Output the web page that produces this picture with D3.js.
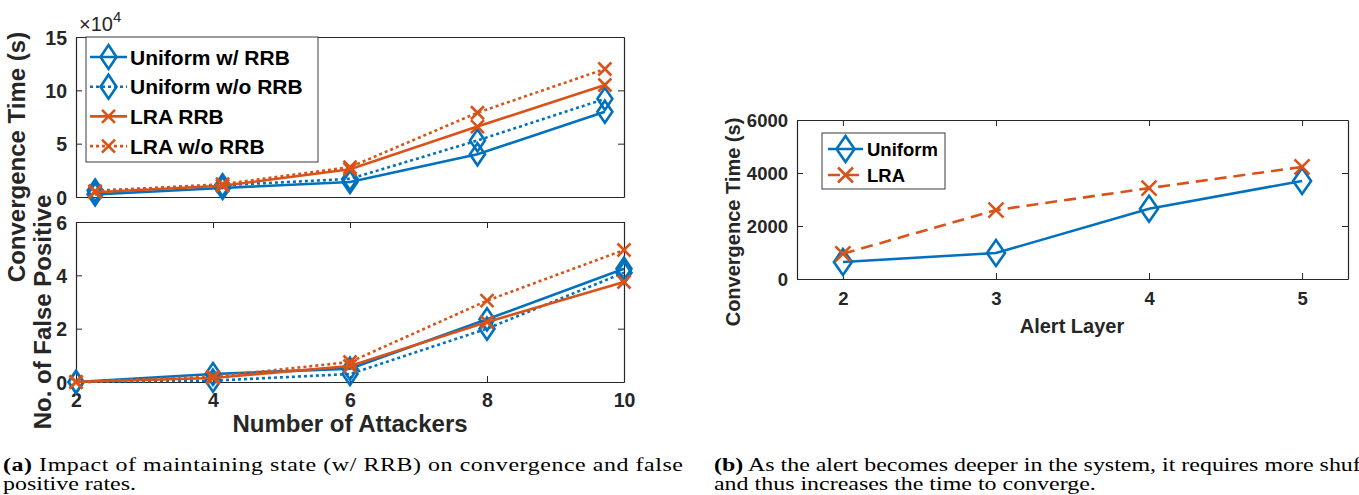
<!DOCTYPE html>
<html>
<head>
<meta charset="utf-8">
<script src="https://cdn.jsdelivr.net/npm/d3@7"></script>
<style>
body { margin: 0; background: #fff; }
text { font-family: "Liberation Sans", Arial, sans-serif; }
.cap { font-family: "Liberation Serif", "Times New Roman", serif; font-size: 19px; fill: #000; }
</style>
</head>
<body>
<svg id="fig"></svg>
<script>
// number of attackers (panel a)
const attackers = [2, 4, 6, 8, 10]
// convergence time, x10^4 s
const convUniformRRB   = [0.25, 0.85, 1.4, 4.0, 8.0]
const convUniformNoRRB = [0.6, 1.1, 1.7, 5.3, 9.2]
const convLraRRB       = [0.45, 1.05, 2.6, 6.6, 10.5]
const convLraNoRRB     = [0.55, 1.2, 2.8, 7.9, 12.0]
// number of false positives
const fpUniformRRB   = [0, 0.3, 0.5, 2.35, 4.25]
const fpUniformNoRRB = [0, 0.05, 0.3, 2.0, 4.1]
const fpLraRRB       = [0, 0.15, 0.6, 2.25, 3.75]
const fpLraNoRRB     = [0, 0.2, 0.75, 3.05, 4.95]
// panel b
const alertLayers = [2, 3, 4, 5]
const layerUniform = [640, 980, 2650, 3700]
const layerLra     = [950, 2600, 3430, 4230]

const convTicks = [0, 5, 10, 15]
const fpTicks = [0, 2, 4, 6]
const layerTicks = [0, 2000, 4000, 6000]

const blue = '#0072BD'
const orange = '#D95319'
const axisColor = '#262626'

const width = 1359, height = 495

const svg = d3.select('#fig')
  .attr('width', width)
  .attr('height', height)
  .attr('viewBox', [0, 0, width, height])

svg.append('rect').attr('width', width).attr('height', height).attr('fill', '#fff')

function marker(type, w, h) {
  if (type == 'diamond') return `M0,${-h}L${w},0L0,${h}L${-w},0Z`
  return `M${-w},${-h}L${w},${h}M${-w},${h}L${w},${-h}`
}

const fmt = d3.format('d')

// axis box with inward ticks, MATLAB style
function drawBox(g, x, y, o) {
  const [x0, x1] = x.range()
  const [y0, y1] = y.range()

  const left = g.append('g').attr('transform', `translate(${x0},0)`)
    .call(d3.axisLeft(y).tickValues(o.yTicks).tickFormat(fmt).tickSize(-6).tickSizeOuter(0).tickPadding(9))
  g.append('g').attr('transform', `translate(${x1},0)`)
    .call(d3.axisRight(y).tickValues(o.yTicks).tickSize(-6).tickSizeOuter(0).tickFormat(''))
  const bottom = g.append('g').attr('transform', `translate(0,${y0})`)
    .call(d3.axisBottom(x).tickValues(o.xTicks).tickFormat(fmt).tickSize(-6).tickSizeOuter(0).tickPadding(o.xPad || 12))
  g.append('g').attr('transform', `translate(0,${y1})`)
    .call(d3.axisTop(x).tickValues(o.xTicks).tickSize(-6).tickSizeOuter(0).tickFormat(''))

  g.selectAll('.domain').attr('stroke', axisColor).attr('stroke-width', 1.2)
  g.selectAll('.tick line').attr('stroke', axisColor).attr('stroke-width', 1)
  g.selectAll('.tick text')
    .attr('fill', axisColor)
    .attr('font-family', '"Liberation Sans", Arial, sans-serif')
    .attr('font-weight', 'bold')
    .attr('font-size', o.fontSize)
  left.selectAll('.tick text').attr('dy', '0.36em')
  bottom.selectAll('.tick text').attr('dy', '0.71em')
}

function drawSeries(g, x, y, xs, series, mw, mh, xw) {
  const line = d3.line().x(d => x(d[0])).y(d => y(d[1]))
  series.forEach(s => {
    const pts = xs.map((v, i) => [v, s.values[i]])
    g.append('path')
      .attr('d', line(pts))
      .attr('fill', 'none')
      .attr('stroke', s.color)
      .attr('stroke-width', 2.6)
      .attr('stroke-dasharray', s.dash)
    g.selectAll(null).data(pts).join('path')
      .attr('transform', d => `translate(${x(d[0])},${y(d[1])})`)
      .attr('d', s.marker == 'diamond' ? marker('diamond', mw, mh) : marker('x', xw, xw))
      .attr('fill', 'none')
      .attr('stroke', s.color)
      .attr('stroke-width', 2.6)
  })
}

function drawLegend(g, series, o) {
  g.append('rect')
    .attr('x', o.x).attr('y', o.y)
    .attr('width', o.w).attr('height', o.h)
    .attr('fill', '#fff')
    .attr('stroke', '#3a3a3a')
    .attr('stroke-width', 1)
  series.forEach((s, i) => {
    const cy = o.rowY + i * o.step
    g.append('line')
      .attr('x1', o.x + o.l0).attr('x2', o.x + o.l1)
      .attr('y1', cy).attr('y2', cy)
      .attr('stroke', s.color).attr('stroke-width', 2.6)
      .attr('stroke-dasharray', s.dash)
    g.append('path')
      .attr('transform', `translate(${o.x + (o.l0 + o.l1) / 2},${cy})`)
      .attr('d', s.marker == 'diamond' ? marker('diamond', o.mw, o.mh) : marker('x', o.xw, o.xw))
      .attr('fill', 'none').attr('stroke', s.color).attr('stroke-width', 2.6)
    g.append('text')
      .attr('x', o.x + o.tx).attr('y', cy).attr('dy', '0.36em')
      .attr('font-weight', 'bold').attr('font-size', o.fontSize)
      .attr('fill', '#000')
      .text(s.name)
  })
}

// ---------- panel (a), top: convergence time ----------
const xTop = d3.scaleLinear().domain([1.7, 10.3]).range([76, 624])
const yConv = d3.scaleLinear().domain([0, 15]).range([197, 37])
const gTop = svg.append('g')
drawBox(gTop, xTop, yConv, { yTicks: convTicks, xTicks: [], fontSize: 19.5 })

const convSeries = [
  { name: 'Uniform w/ RRB', values: convUniformRRB, color: blue, dash: null, marker: 'diamond' },
  { name: 'Uniform w/o RRB', values: convUniformNoRRB, color: blue, dash: '3,3', marker: 'diamond' },
  { name: 'LRA RRB', values: convLraRRB, color: orange, dash: null, marker: 'x' },
  { name: 'LRA w/o RRB', values: convLraNoRRB, color: orange, dash: '3,3', marker: 'x' }
]
drawSeries(gTop, xTop, yConv, attackers, convSeries, 7.5, 11, 6.5)

gTop.append('text')
  .attr('x', 79).attr('y', 31)
  .attr('font-size', 20).attr('fill', axisColor)
  .text('×10')
  .append('tspan').attr('dy', -9).attr('font-size', 15).text('4')

drawLegend(gTop, convSeries, {
  x: 86, y: 37, w: 232, h: 125, rowY: 57, step: 29.7,
  l0: 4, l1: 41, tx: 44, mw: 8, mh: 12, xw: 6.5, fontSize: 21
})

gTop.append('text')
  .attr('transform', 'translate(25,157) rotate(-90)')
  .attr('text-anchor', 'middle')
  .attr('font-weight', 'bold').attr('font-size', 24).attr('fill', axisColor)
  .text('Convergence Time (s)')

// ---------- panel (a), bottom: false positives ----------
const xBot = d3.scaleLinear().domain([2, 10]).range([76, 624])
const yFp = d3.scaleLinear().domain([0, 6]).range([382, 222])
const gBot = svg.append('g')
drawBox(gBot, xBot, yFp, { yTicks: fpTicks, xTicks: attackers, fontSize: 19.5, xPad: 11 })

const fpSeries = [
  { values: fpUniformRRB, color: blue, dash: null, marker: 'diamond' },
  { values: fpUniformNoRRB, color: blue, dash: '3,3', marker: 'diamond' },
  { values: fpLraRRB, color: orange, dash: null, marker: 'x' },
  { values: fpLraNoRRB, color: orange, dash: '3,3', marker: 'x' }
]
drawSeries(gBot, xBot, yFp, attackers, fpSeries, 7.5, 11, 6.5)

gBot.append('text')
  .attr('transform', 'translate(51,312) rotate(-90)')
  .attr('text-anchor', 'middle')
  .attr('font-weight', 'bold').attr('font-size', 24).attr('fill', axisColor)
  .text('No. of False Positive')

gBot.append('text')
  .attr('x', 350).attr('y', 432)
  .attr('text-anchor', 'middle')
  .attr('font-weight', 'bold').attr('font-size', 24).attr('fill', axisColor)
  .text('Number of Attackers')

// ---------- panel (b): alert layer ----------
const xLayer = d3.scaleLinear().domain([1.7, 5.3]).range([797, 1348])
const yLayer = d3.scaleLinear().domain([0, 6000]).range([279, 120])
const gR = svg.append('g')
drawBox(gR, xLayer, yLayer, { yTicks: layerTicks, xTicks: alertLayers, fontSize: 18.5, xPad: 13 })

const layerSeries = [
  { name: 'Uniform', values: layerUniform, color: blue, dash: null, marker: 'diamond' },
  { name: 'LRA', values: layerLra, color: orange, dash: '12,7', marker: 'x' }
]
drawSeries(gR, xLayer, yLayer, alertLayers, layerSeries, 9, 13, 7.5)

drawLegend(gR, layerSeries, {
  x: 822, y: 133, w: 123, h: 56, rowY: 149, step: 26,
  l0: 6, l1: 41, tx: 45, mw: 9, mh: 13, xw: 7.5, fontSize: 18.5
})

gR.append('text')
  .attr('transform', 'translate(740,222) rotate(-90)')
  .attr('text-anchor', 'middle')
  .attr('font-weight', 'bold').attr('font-size', 20).attr('fill', axisColor)
  .text('Convergence Time (s)')

gR.append('text')
  .attr('x', 1072).attr('y', 333)
  .attr('text-anchor', 'middle')
  .attr('font-weight', 'bold').attr('font-size', 20).attr('fill', axisColor)
  .text('Alert Layer')

// ---------- captions (wide serif, stretched horizontally) ----------
const sx = 1.26
const capGA = svg.append('g').attr('transform', `translate(3,0) scale(${sx},1)`)
const capA = capGA.append('text').attr('class', 'cap')
  .attr('x', 0).attr('y', 471)
  .attr('textLength', 680 / sx).attr('lengthAdjust', 'spacing')
capA.append('tspan').attr('font-weight', 'bold').text('(a)')
capA.append('tspan').text(' Impact of maintaining state (w/ RRB) on convergence and false')
capGA.append('text').attr('class', 'cap').attr('x', 0).attr('y', 490).text('positive rates.')

const capGB = svg.append('g').attr('transform', `translate(714,0) scale(${sx},1)`)
const capB = capGB.append('text').attr('class', 'cap').attr('x', 0).attr('y', 471)
capB.append('tspan').attr('font-weight', 'bold').text('(b)')
capB.append('tspan').text(' As the alert becomes deeper in the system, it requires more shuf')
capGB.append('text').attr('class', 'cap').attr('x', 0).attr('y', 490).text('and thus increases the time to converge.')
</script>
</body>
</html>
